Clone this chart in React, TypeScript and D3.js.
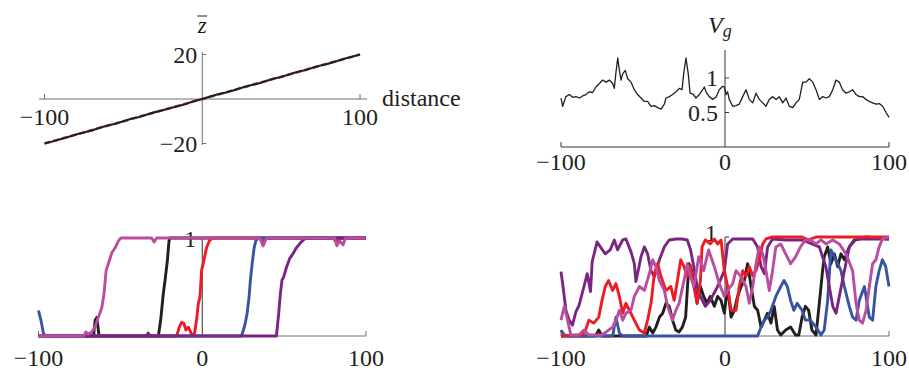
import React from 'react';
import * as d3 from 'd3';

// ---------- DATA ----------
const xTickVals = [-100, 0, 100];
const tlYTicks = [20, -20];
const trYTicks = [1, 0.5];

// top-left: mean z vs distance (black simulated, magenta dashed reference)
const zbarSim: [number, number][] = [
  [-100, -20], [-95, -19.1], [-90, -18.1], [-85, -17.1], [-80, -16.0], [-75, -15.1], [-70, -14.1],
  [-65, -12.9], [-60, -11.9], [-55, -11.1], [-50, -10.0], [-45, -8.9], [-40, -8.1], [-35, -7.0],
  [-30, -5.9], [-25, -5.1], [-20, -4.0], [-15, -3.1], [-10, -2.1], [-5, -0.9], [0, 0], [5, 1.1],
  [10, 2.1], [15, 2.9], [20, 3.9], [25, 5.1], [30, 6.1], [35, 6.9], [40, 8.0], [45, 9.1], [50, 9.9],
  [55, 11.0], [60, 12.1], [65, 12.9], [70, 14.0], [75, 15.1], [80, 15.9], [85, 17.0], [90, 18.1],
  [95, 19.0], [100, 20],
];
const zbarRef: [number, number][] = [[-100, -20], [100, 20]];

// top-right: V_g
const vgSeries: [number, number][] = [
  [-100, 0.71], [-99, 0.59], [-97, 0.73], [-94.9, 0.76], [-92.9, 0.72], [-90.9, 0.73], [-88.8, 0.71],
  [-86.8, 0.74], [-84.8, 0.76], [-82.7, 0.80], [-80.7, 0.79], [-78.7, 0.87], [-76.6, 0.92], [-74.6, 0.97],
  [-72.6, 0.94], [-70.5, 0.97], [-68.5, 0.92], [-67.5, 0.85], [-66.5, 1.08], [-65.4, 1.29], [-64.4, 1.11],
  [-63.4, 0.97], [-62.4, 1.06], [-60.8, 1.11], [-59.3, 0.99], [-57.3, 0.94], [-55.3, 0.83], [-53.3, 0.76],
  [-51.2, 0.71], [-49.2, 0.66], [-47.2, 0.66], [-45.1, 0.59], [-43.1, 0.60], [-41.1, 0.57], [-39.0, 0.55],
  [-37.0, 0.62], [-36.0, 0.71], [-33.9, 0.73], [-31.9, 0.76], [-29.9, 0.80], [-27.8, 0.85], [-26.2, 0.83],
  [-25.2, 1.06], [-23.8, 1.29], [-22.4, 1.06], [-21.3, 0.78], [-19.7, 0.77], [-17.7, 0.71], [-15.7, 0.76],
  [-13.6, 0.83], [-12.6, 0.87], [-11.6, 0.80], [-9.6, 0.73], [-7.5, 0.69], [-5.5, 0.72], [-3.5, 0.83],
  [-1.4, 0.88], [-0.4, 0.87], [0.6, 0.76], [1.6, 0.80], [2.6, 0.69], [4.7, 0.59], [6.7, 0.60], [8.7, 0.62],
  [10.8, 0.73], [12.8, 0.83], [14.8, 0.69], [16.9, 0.64], [18.9, 0.78], [20.9, 0.69], [23.0, 0.64],
  [25.0, 0.59], [27.0, 0.69], [29.1, 0.73], [31.1, 0.69], [33.1, 0.73], [35.2, 0.64], [37.2, 0.71],
  [39.2, 0.59], [41.3, 0.57], [43.3, 0.64], [45.3, 0.69], [47.4, 0.94], [49.4, 0.94], [51.4, 0.99],
  [53.5, 0.94], [55.5, 0.83], [57.5, 0.69], [59.6, 0.73], [61.6, 0.71], [63.6, 0.73], [65.7, 0.83],
  [67.7, 0.97], [69.7, 0.94], [71.7, 0.83], [73.8, 0.78], [75.8, 0.80], [77.8, 0.83], [79.9, 0.76],
  [81.9, 0.73], [83.9, 0.73], [86.0, 0.69], [88.0, 0.66], [90.0, 0.64], [92.1, 0.62], [94.1, 0.63],
  [96.1, 0.59], [98.2, 0.50], [100, 0.43],
];

// bottom-left: frequency clines
const blBlack: [number, number][] = [
  [-100, 0], [-66.4, 0], [-65.4, 0.16], [-64.4, 0.19], [-63, 0], [-26.8, 0], [-25.4, 0.16], [-23.8, 0.43],
  [-22.7, 0.57], [-21.3, 0.77], [-20.3, 0.97], [-19.7, 1], [100, 1],
];
const blRed: [number, number][] = [
  [-100, 0], [-15.6, 0], [-14, 0.09], [-12.6, 0.14], [-11.2, 0.13], [-10, 0.06], [-8.5, 0.09], [-6.5, 0.02],
  [-4.9, 0.01], [-3.5, 0.16], [-2.4, 0.33], [-1.4, 0.4], [-0.4, 0.67], [1, 0.77], [2.6, 0.9], [4.3, 0.97],
  [6.3, 1], [35.1, 1], [37.2, 0.95], [39.2, 1], [79.8, 1], [81.8, 0.96], [83.9, 1], [100, 1],
];
const blBlue: [number, number][] = [
  [-100, 0.26], [-98.5, 0.16], [-96.9, 0.02], [-95.2, 0], [24, 0], [26, 0.11], [27.4, 0.23], [28.6, 0.4],
  [29.4, 0.57], [30.7, 0.77], [31.7, 0.9], [32.7, 0.97], [34.1, 1], [100, 1],
];
const blPurple: [number, number][] = [
  [-100, 0], [-34, 0], [-33, 0.03], [-32, 0], [45.3, 0], [46.7, 0.23], [47.7, 0.43], [48.7, 0.57],
  [49.7, 0.6], [51.4, 0.7], [53.4, 0.79], [55.4, 0.84], [57.5, 0.9], [60.5, 0.96], [62.5, 0.99],
  [64.6, 1], [100, 1],
];
const blMagenta: [number, number][] = [
  [-100, 0], [-72.5, 0], [-71, 0.04], [-69.5, 0.02], [-67.5, 0.04], [-65.5, 0.09], [-63.5, 0.19],
  [-61.3, 0.29], [-60, 0.43], [-58.7, 0.67], [-57.3, 0.74], [-55.2, 0.85], [-53.2, 0.9], [-51.2, 0.97],
  [-49.7, 1], [-30.9, 1], [-29.4, 0.96], [-27.8, 1], [35.1, 1], [37.2, 0.92], [39.2, 1], [80.8, 1],
  [82.2, 0.92], [83.9, 0.97], [86, 0.93], [87.5, 1], [100, 1],
];

// bottom-right: frequency trajectories
const brBlack: [number, number][] = [
  [-100, 0], [-79, 0], [-77, 0.06], [-75, 0], [-48, 0], [-46.1, 0.09], [-44.1, 0.03], [-42.1, 0.09],
  [-40, 0.19], [-38, 0.23], [-36, 0.33], [-34, 0.3], [-32, 0.16], [-30, 0.06], [-28, 0.04], [-26, 0.09],
  [-24, 0.19], [-22, 0.73], [-21, 0.7], [-19, 0.56], [-17, 0.33], [-15, 0.5], [-13, 0.4], [-11, 0.33],
  [-9, 0.4], [-6.5, 0.3], [-4.5, 0.4], [-2.4, 0.36], [-0.4, 0.23], [1.6, 0.5], [3.7, 0.19], [5.7, 0.26],
  [7.7, 0.4], [9.8, 0.5], [11.8, 0.56], [13.8, 0.73], [15.9, 0.5], [17.9, 0.3], [19.9, 0.26], [22, 0.09],
  [24, 0.16], [26, 0.23], [28, 0.13], [30, 0.3], [32, 0.06], [34, 0.01], [37, 0.06], [40, 0.09],
  [43, 0.01], [45, 0.01], [47, 0.19], [49, 0.3], [51, 0.26], [53, 0.06], [55.5, 0.01], [57.5, 0.33],
  [59.5, 0.66], [60.5, 0.8], [62.6, 0.9], [64.6, 0.73], [66.7, 0.83], [68.7, 0.7], [70.7, 0.83],
  [72.8, 0.77], [75.8, 0.9], [78.9, 0.97], [81.9, 0.98], [86, 1], [100, 0.98],
];
const brBlue: [number, number][] = [
  [-100, 0.06], [-98, 0.01], [-95, 0], [-68.5, 0], [-66.5, 0.19], [-64.4, 0.03], [-62.4, 0], [19.9, 0],
  [22, 0.09], [24, 0.16], [26, 0.19], [28, 0.26], [31, 0.4], [34, 0.5], [36, 0.56], [38, 0.5], [40, 0.36],
  [42, 0.26], [44, 0.33], [47, 0.26], [49, 0.16], [52, 0.16], [55.5, 0.09], [58.5, 0.01], [60.5, 0.06],
  [62.6, 0.36], [64.6, 0.87], [66.7, 0.8], [68.7, 0.73], [70.7, 0.66], [72.8, 0.5], [75.8, 0.3],
  [77.8, 0.19], [79.9, 0.16], [81.9, 0.36], [85, 0.5], [88, 0.19], [90, 0.16], [92, 0.5], [94, 0.66],
  [96, 0.77], [98, 0.7], [100, 0.5],
];
const brPurple: [number, number][] = [
  [-100, 0.65], [-99, 0.53], [-97, 0.26], [-95, 0.16], [-93, 0.11], [-91, 0.24], [-89, 0.31], [-86, 0.5],
  [-84, 0.63], [-82, 0.45], [-81, 0.75], [-78, 0.95], [-76, 0.9], [-73, 0.83], [-70, 0.87], [-67.5, 0.97],
  [-65.5, 0.87], [-62.4, 0.97], [-60.4, 0.98], [-57.3, 0.85], [-55.3, 0.73], [-54.3, 0.55], [-51.2, 0.8],
  [-49.2, 0.9], [-47.2, 0.83], [-45.1, 0.66], [-43.1, 0.6], [-40, 0.77], [-37, 0.9], [-34, 0.97],
  [-30, 0.98], [-26, 0.98], [-23, 0.97], [-21, 0.87], [-19, 0.7], [-17, 0.5], [-15, 0.4], [-12, 0.3],
  [-9, 0.36], [-4.5, 0.5], [-0.4, 0.66], [1.6, 0.93], [4.7, 0.98], [16.9, 0.98], [19.9, 0.9], [22, 0.7],
  [24, 0.63], [26, 0.9], [29, 0.98], [37, 0.97], [47, 0.97], [57.5, 0.9], [61.5, 0.7], [65.7, 0.3],
  [67.7, 0.23], [69.7, 0.4], [72.8, 0.66], [75.8, 0.9], [79.9, 0.98], [100, 0.98],
];
const brRed: [number, number][] = [
  [-100, 0], [-87, 0.01], [-85, 0.06], [-83, 0.16], [-80, 0.13], [-77, 0.19], [-75, 0.36], [-73, 0.5],
  [-71, 0.56], [-68.5, 0.46], [-66.5, 0.53], [-64.4, 0.4], [-62.4, 0.23], [-60.4, 0.33], [-58.3, 0.26],
  [-55.3, 0.16], [-52.2, 0.06], [-49.2, 0.03], [-47.2, 0.16], [-45.1, 0.33], [-43.1, 0.63], [-41.1, 0.73],
  [-39, 0.6], [-36, 0.46], [-33, 0.5], [-31, 0.36], [-29, 0.56], [-27, 0.77], [-25, 0.7], [-23, 0.6],
  [-21, 0.71], [-19, 0.5], [-17, 0.33], [-15, 0.56], [-14, 0.9], [-12, 0.97], [-9, 0.93], [-6.5, 0.98],
  [-4.5, 0.93], [-2.4, 0.97], [-0.4, 0.66], [1.6, 0.5], [3.7, 0.26], [6.7, 0.26], [8.7, 0.5], [10.8, 0.66],
  [12.8, 0.6], [14.8, 0.7], [16.9, 0.61], [18.9, 0.66], [20.9, 0.77], [23, 0.93], [25, 0.98], [29, 1],
  [47, 1], [51, 0.97], [55.5, 1], [100, 1],
];
const brMagenta: [number, number][] = [
  [-100, 0.16], [-98, 0.3], [-96, 0.16], [-94, 0.01], [-89, 0.01], [-86, 0.06], [-83, 0.01], [-75, 0.01],
  [-68.5, 0.09], [-66.5, 0.16], [-64.4, 0.26], [-62.4, 0.16], [-60.4, 0.23], [-57.3, 0.26], [-55.3, 0.4],
  [-52.2, 0.5], [-49.2, 0.46], [-46.1, 0.63], [-44.1, 0.77], [-42.1, 0.7], [-40, 0.56], [-37, 0.46],
  [-35, 0.3], [-32, 0.16], [-30, 0.26], [-28, 0.33], [-25, 0.56], [-23, 0.73], [-21, 0.6], [-19, 0.5],
  [-16, 0.8], [-13, 0.66], [-10, 0.87], [-6.5, 0.7], [-3.5, 0.53], [-0.4, 0.4], [1.6, 0.46], [4.7, 0.53],
  [6.7, 0.66], [9.8, 0.6], [12.8, 0.5], [14.8, 0.33], [16.9, 0.5], [18.9, 0.73], [20.9, 0.9], [23, 0.83],
  [25, 0.66], [27, 0.46], [29, 0.66], [31, 0.9], [34, 0.93], [37, 0.83], [40, 0.73], [43, 0.8], [46, 0.9],
  [49, 0.97], [52, 0.97], [55.5, 0.93], [58.5, 0.97], [61.5, 0.93], [65.7, 0.97], [69.7, 0.93],
  [73.8, 0.83], [77.8, 0.66], [79.9, 0.33], [81.9, 0.16], [83.9, 0.13], [86, 0.26], [88, 0.5], [90, 0.73],
  [92, 0.77], [94, 0.9], [96, 0.98], [100, 1],
];

// ---------- STYLE ----------
const FONT = "'Liberation Serif', Tinos, 'Times New Roman', Times, serif";
const TXT = '#231f20';
const C_BLACK = '#231f20';
const C_RED = '#ed1c24';
const C_BLUE = '#3953a4';
const C_PURPLE = '#7b2583';
const C_MAGENTA = '#b94da0';
const FS = 24;

type Sc = d3.ScaleLinear<number, number>;

function pathOf(data: [number, number][], x: Sc, y: Sc) {
  return d3.line<[number, number]>().x(d => x(d[0])).y(d => y(d[1]))(data) || '';
}

function fmt(v: number) {
  return v < 0 ? '\u2212' + Math.abs(v) : String(v);
}

function XAxis({ x, yPix, x0, x1, labels, labelY, color, tickLen = 5 }:
  { x: Sc; yPix: number; x0: number; x1: number; labels: number[]; labelY: number; color: string; tickLen?: number }) {
  return (
    <g>
      <line x1={x0} x2={x1} y1={yPix} y2={yPix} stroke={color} strokeWidth={1} />
      {[-100, 100].map(v => (
        <line key={v} x1={x(v)} x2={x(v)} y1={yPix} y2={yPix - tickLen} stroke={color} strokeWidth={1} />
      ))}
      {labels.map(v => (
        <text key={v} x={x(v)} y={labelY} textAnchor="middle" fontFamily={FONT} fontSize={FS} fill={TXT}>
          {fmt(v)}
        </text>
      ))}
    </g>
  );
}

export default function App() {
  // top-left
  const tlX = d3.scaleLinear().domain([-100, 100]).range([44.5, 360]);
  const tlY = d3.scaleLinear().domain([-20, 20]).range([143.5, 54.5]);
  // top-right
  const trX = d3.scaleLinear().domain([-100, 100]).range([561, 889]);
  const trY = d3.scaleLinear().domain([0, 1]).range([147, 78]);
  // bottom-left
  const blX = d3.scaleLinear().domain([-100, 100]).range([38.5, 366]);
  const blY = d3.scaleLinear().domain([0, 1]).range([336, 238]);
  // bottom-right
  const brX = d3.scaleLinear().domain([-100, 100]).range([561, 889]);
  const brY = d3.scaleLinear().domain([0, 1]).range([336, 237]);

  const axisGray = '#6d6e71';
  const lw = 2.9;

  return (
    <svg width={909} height={370} style={{ position: 'absolute', left: 0, top: 0, background: '#fff' }}>
      {/* ---------- top-left ---------- */}
      <g>
        <line x1={39} x2={367} y1={tlY(0)} y2={tlY(0)} stroke={axisGray} strokeWidth={1} />
        {[-100, 100].map(v => (
          <line key={v} x1={tlX(v)} x2={tlX(v)} y1={tlY(0)} y2={tlY(0) - 5} stroke={axisGray} />
        ))}
        <line x1={tlX(0)} x2={tlX(0)} y1={52} y2={145} stroke={axisGray} strokeWidth={1} />
        {tlYTicks.map(v => (
          <g key={v}>
            <line x1={tlX(0)} x2={tlX(0) + 4} y1={tlY(v)} y2={tlY(v)} stroke={axisGray} />
            <text x={tlX(0) - 5} y={tlY(v) + 8} textAnchor="end" fontFamily={FONT} fontSize={FS} fill={TXT}>
              {fmt(v)}
            </text>
          </g>
        ))}
        {[-100, 100].map(v => (
          <text key={v} x={tlX(v)} y={125} textAnchor="middle" fontFamily={FONT} fontSize={FS} fill={TXT}>
            {fmt(v)}
          </text>
        ))}
        <text x={382} y={106} fontFamily={FONT} fontSize={FS} fill={TXT}>distance</text>
        <text x={tlX(0)} y={33} textAnchor="middle" fontFamily={FONT} fontSize={23} fontStyle="italic" fill={TXT}>z</text>
        <line x1={tlX(0) - 5} x2={tlX(0) + 5} y1={16} y2={16} stroke={TXT} strokeWidth={1} />
        <path d={pathOf(zbarRef, tlX, tlY)} fill="none" stroke={C_MAGENTA} strokeWidth={2.6} strokeDasharray="6,3" />
        <path d={pathOf(zbarSim, tlX, tlY)} fill="none" stroke={C_BLACK} strokeWidth={2.1} />
      </g>

      {/* ---------- top-right ---------- */}
      <g>
        <XAxis x={trX} yPix={147} x0={trX(-100)} x1={trX(100)} labels={xTickVals} labelY={170} color="#333" />
        <line x1={trX(0)} x2={trX(0)} y1={50} y2={147} stroke="#333" strokeWidth={1} />
        {trYTicks.map(v => (
          <g key={v}>
            <line x1={trX(0)} x2={trX(0) + 4} y1={trY(v)} y2={trY(v)} stroke="#333" />
            <text x={trX(0) - 7} y={trY(v) + 8} textAnchor="end" fontFamily={FONT} fontSize={FS} fill={TXT}>{String(v)}</text>
          </g>
        ))}
        <path d={pathOf(vgSeries, trX, trY)} fill="none" stroke={C_BLACK} strokeWidth={1.3} strokeLinejoin="round" />
        <text x={708} y={33} fontFamily={FONT} fontSize={FS} fontStyle="italic" fill={TXT}>
          V<tspan fontSize={18} dy={4}>g</tspan>
        </text>
      </g>

      {/* ---------- bottom-left ---------- */}
      <g>
        <XAxis x={blX} yPix={336} x0={blX(-100)} x1={blX(100)} labels={xTickVals} labelY={366} color={axisGray} />
        <line x1={blX(0)} x2={blX(0)} y1={238} y2={336} stroke="#333" strokeWidth={1} />
        <line x1={blX(0)} x2={blX(0) + 4} y1={blY(1)} y2={blY(1)} stroke="#333" />
        <text x={blX(0) - 6} y={blY(1) + 9} textAnchor="end" fontFamily={FONT} fontSize={FS} fill={TXT}>1</text>
        {[
          [blBlack, C_BLACK], [blRed, C_RED], [blBlue, C_BLUE], [blPurple, C_PURPLE], [blMagenta, C_MAGENTA],
        ].map(([d, c], i) => (
          <path key={i} d={pathOf(d as [number, number][], blX, blY)} fill="none" stroke={c as string}
            strokeWidth={lw} strokeLinejoin="round" />
        ))}
      </g>

      {/* ---------- bottom-right ---------- */}
      <g>
        <XAxis x={brX} yPix={336} x0={brX(-100)} x1={brX(100)} labels={xTickVals} labelY={366} color={axisGray} />
        <line x1={brX(0)} x2={brX(0)} y1={237} y2={336} stroke="#333" strokeWidth={1} />
        <line x1={brX(0)} x2={brX(0) + 4} y1={brY(1)} y2={brY(1)} stroke="#333" />
        <text x={brX(0) - 8} y={brY(1) + 4} textAnchor="end" fontFamily={FONT} fontSize={FS} fill={TXT}>1</text>
        {[
          [brBlack, C_BLACK], [brBlue, C_BLUE], [brPurple, C_PURPLE], [brRed, C_RED], [brMagenta, C_MAGENTA],
        ].map(([d, c], i) => (
          <path key={i} d={pathOf(d as [number, number][], brX, brY)} fill="none" stroke={c as string}
            strokeWidth={lw} strokeLinejoin="round" />
        ))}
      </g>
    </svg>
  );
}
